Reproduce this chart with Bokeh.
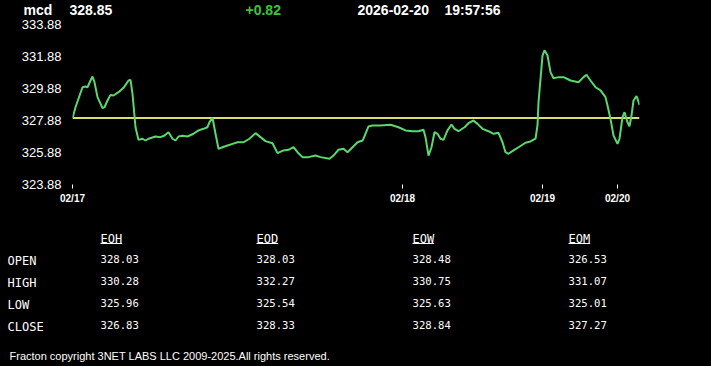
from bokeh.plotting import figure
from bokeh.layouts import column
from bokeh.models import Range1d, FixedTicker, GlobalInlineStyleSheet
from bokeh.core.properties import value
from bokeh.embed import file_html
from bokeh.resources import INLINE

# ---------------- data ----------------
symbol = "mcd"
last_price = "328.85"
change = "+0.82"
date_str = "2026-02-20"
time_str = "19:57:56"
baseline = 328.03

t = [0, 3, 10, 13, 15, 18, 20, 22, 25, 30, 32, 35, 38, 41, 46, 51, 56, 58, 60, 63,
     66, 70, 73, 76, 83, 88, 92, 96, 100, 103, 106, 110, 115, 121, 126, 131, 135, 137, 140, 143,
     146, 150, 155, 160, 165, 171, 177, 183, 188, 193, 200, 205, 211, 216, 221, 225, 230, 236, 243, 248,
     257, 261, 266, 271, 275, 280, 285, 290, 291, 296, 300, 308, 318, 326, 333, 340, 346, 351, 353, 356,
     359, 362, 365, 368, 371, 375, 379, 382, 386, 392, 396, 401, 405, 410, 416, 421, 426, 430, 433, 436,
     441, 446, 453, 458, 463, 465, 466, 470, 472, 475, 478, 481, 486, 491, 498, 506, 511, 514, 518, 523,
     528, 533, 535, 538, 541, 545, 547, 550, 552, 555, 557, 559, 561, 564, 565, 567]
price = [328.03, 328.71, 329.96, 330.01, 329.96, 330.38, 330.63, 330.27, 329.34, 328.65, 328.71, 329.13, 329.48, 329.44, 329.65, 329.92, 330.38, 330.42, 329.55, 327.46,
         326.67, 326.74, 326.63, 326.74, 326.88, 326.84, 326.94, 327.15, 326.74, 326.63, 326.88, 326.92, 326.88, 327.05, 327.26, 327.36, 327.46, 327.78, 328.05, 327.05,
         326.11, 326.21, 326.32, 326.42, 326.52, 326.52, 326.74, 327.09, 326.84, 326.59, 326.46, 325.84, 326.01, 326.05, 326.21, 325.90, 325.59, 325.59, 325.69, 325.59,
         325.49, 325.69, 326.05, 326.11, 325.90, 326.21, 326.52, 326.63, 326.74, 327.51, 327.57, 327.57, 327.61, 327.46, 327.26, 327.21, 327.21, 327.30, 326.84, 325.69,
         326.21, 327.15, 327.05, 326.74, 326.67, 327.26, 327.63, 327.36, 327.21, 327.46, 327.71, 327.88, 327.67, 327.36, 327.21, 327.05, 327.11, 326.52, 325.90, 325.80,
         326.01, 326.21, 326.49, 326.57, 326.74, 327.57, 329.02, 331.94, 332.27, 331.94, 330.90, 330.52, 330.59, 330.59, 330.38, 330.27, 330.59, 330.74, 330.38, 329.96,
         329.76, 329.34, 328.82, 327.98, 326.94, 326.42, 326.74, 328.09, 328.40, 327.77, 327.52, 328.19, 329.13, 329.40, 329.24, 328.85]

y_ticks = [323.88, 325.88, 327.88, 329.88, 331.88, 333.88]
x_tick_pos = [0, 330, 470, 545]
x_tick_labels = ["02/17", "02/18", "02/19", "02/20"]

col_names = ["EOH", "EOD", "EOW", "EOM"]
row_names = ["OPEN", "HIGH", "LOW", "CLOSE"]
eoh = ["328.03", "330.28", "325.96", "326.83"]
eod = ["328.03", "332.27", "325.54", "328.33"]
eow = ["328.48", "330.75", "325.63", "328.84"]
eom = ["326.53", "331.07", "325.01", "327.27"]
copyright_text = "Fracton copyright 3NET LABS LLC 2009-2025.All rights reserved."

# ---------------- styles ----------------
BG = "#000000"
W = 711
SANS = "Liberation Sans"
MONO = "DejaVu Sans Mono"

def blank_fig(h, y0, y1):
    f = figure(width=W, height=h, output_backend="svg", toolbar_location=None,
               x_range=Range1d(0, W), y_range=Range1d(y1, y0),
               min_border=0, background_fill_color=BG, border_fill_color=BG,
               outline_line_color=None, frame_align=False)
    f.axis.visible = False
    f.grid.visible = False
    return f

# header
hdr = blank_fig(18, 0, 18)
hx = [23, 69, 245, 357, 444]
htxt = [symbol, last_price, change, date_str, time_str]
hcol = ["#ffffff", "#ffffff", "#3cc43c", "#ffffff", "#ffffff"]
hdr.text(x=hx, y=[9] * 5, text=htxt, text_color=hcol, text_font=value(SANS),
         text_font_style="bold", text_font_size="14px", text_baseline="middle")

# chart
frame_w = 567
p = figure(width=W, height=188, output_backend="svg", toolbar_location=None,
           x_range=Range1d(0, 567), y_range=Range1d(323.88, 333.88),
           min_border_left=72, min_border_right=W - 72 - frame_w,
           min_border_top=6, min_border_bottom=22,
           background_fill_color=BG, border_fill_color=BG, outline_line_color=None,
           frame_align=False)
p.grid.visible = False
p.line([0, 567], [baseline, baseline], line_color="#dede6a", line_width=2)
p.line(t, price, line_color="#5ad86e", line_width=2)

p.yaxis.ticker = FixedTicker(ticks=y_ticks)
p.yaxis.major_label_overrides = {v: f"{v:.2f}" for v in y_ticks}
p.yaxis.axis_line_color = None
p.yaxis.major_tick_line_color = None
p.yaxis.major_tick_in = 0
p.yaxis.major_tick_out = 0
p.yaxis.minor_tick_line_color = None
p.yaxis.minor_tick_out = 0
p.yaxis.major_label_standoff = 11
p.yaxis.major_label_text_color = "#ffffff"
p.yaxis.major_label_text_font = SANS
p.yaxis.major_label_text_font_size = "13px"

p.xaxis.ticker = FixedTicker(ticks=x_tick_pos)
p.xaxis.major_label_overrides = dict(zip(x_tick_pos, x_tick_labels))
p.xaxis.axis_line_color = None
p.xaxis.major_tick_line_color = "#ffffff"
p.xaxis.major_tick_in = 0
p.xaxis.major_tick_out = 4
p.xaxis.minor_tick_line_color = None
p.xaxis.minor_tick_out = 0
p.xaxis.major_label_standoff = 4
p.xaxis.major_label_text_color = "#ffffff"
p.xaxis.major_label_text_font = SANS
p.xaxis.major_label_text_font_style = "bold"
p.xaxis.major_label_text_font_size = "10px"

# table
tb = blank_fig(160, 206, 366)
col_x = [100, 256, 412, 568]
row_y = [258, 280, 302, 324]
head_y = 238
tb.text(x=col_x, y=[head_y] * 4, text=col_names, text_color="#ffffff", text_font=value(MONO),
        text_font_size="12px", text_baseline="middle")
uw = [len(c) * 0.602 * 12 for c in col_names]
tb.segment(x0=col_x, y0=[head_y + 5] * 4, x1=[x + w for x, w in zip(col_x, uw)], y1=[head_y + 5] * 4,
           line_color="#ffffff", line_width=1)
tb.text(x=[7] * 4, y=[y + 2 for y in row_y], text=row_names, text_color="#ffffff", text_font=value(MONO),
        text_font_size="12px", text_baseline="middle")
for cx, vals in zip(col_x, [eoh, eod, eow, eom]):
    tb.text(x=[cx] * 4, y=row_y, text=vals, text_color="#ffffff", text_font=value(MONO),
            text_font_size="10.6px", text_baseline="middle")
tb.text(x=[9], y=[355], text=[copyright_text], text_color="#ffffff", text_font=value(SANS),
        text_font_size="11px", text_baseline="middle")

css = GlobalInlineStyleSheet(css="html, body { margin: 0; padding: 0; background: #000000; overflow: hidden; }")
layout = column(hdr, p, tb, spacing=0, stylesheets=[css], background=BG)

open("out.html", "w").write(file_html(layout, INLINE))
